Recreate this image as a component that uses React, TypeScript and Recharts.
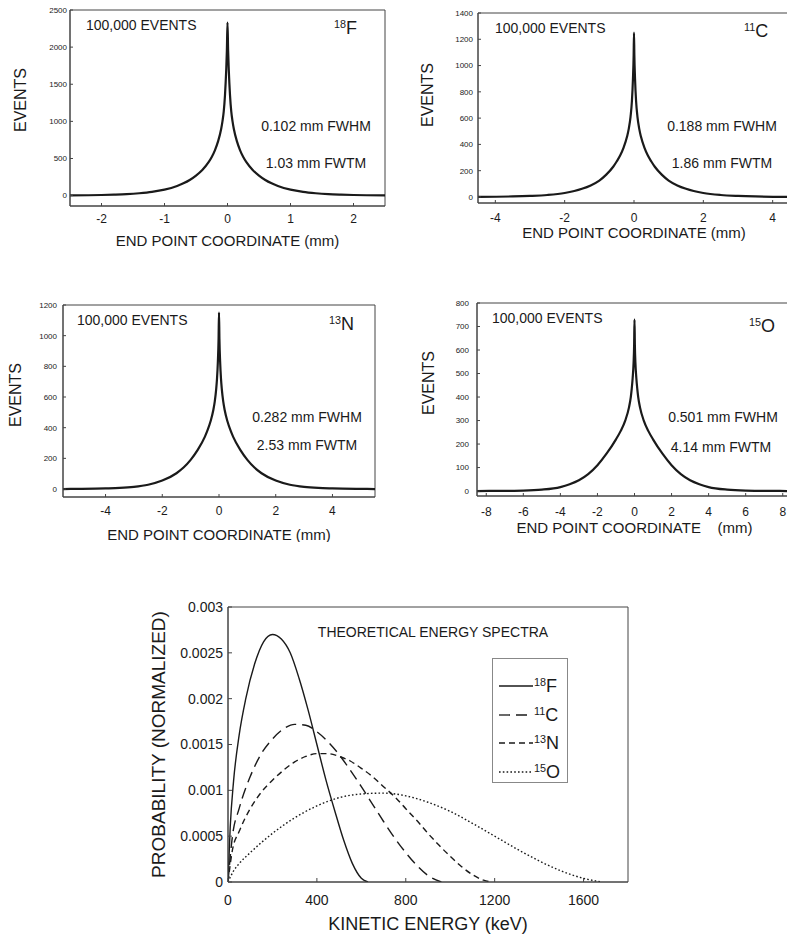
import React from 'react';
import { LineChart, Line, XAxis, YAxis, Label, ReferenceArea } from 'recharts';

const FONT = '"Liberation Sans", Arial, Helvetica, sans-serif';
const INK = '#1a1a1a';
const FRAME = '#444';

// --- end point histograms ---
const F18_X = [-2.5, -2.0, -1.8, -1.6, -1.4, -1.2, -1.0, -0.8, -0.7, -0.6, -0.5, -0.4, -0.3, -0.25, -0.2, -0.15, -0.1, -0.08, -0.06, -0.04, -0.02, -0.01, 0, 0.01, 0.02, 0.04, 0.06, 0.08, 0.1, 0.15, 0.2, 0.25, 0.3, 0.4, 0.5, 0.6, 0.7, 0.8, 1.0, 1.2, 1.4, 1.6, 1.8, 2.0, 2.5];
const F18_N = [3, 8, 13, 20, 32, 50, 80, 130, 165, 210, 270, 345, 450, 520, 610, 730, 900, 1000, 1130, 1350, 1700, 1950, 2330, 1950, 1700, 1350, 1130, 1000, 900, 730, 610, 520, 450, 345, 270, 210, 165, 130, 80, 50, 32, 20, 13, 8, 3];

const C11_X = [-4.5, -3.5, -3.0, -2.5, -2.0, -1.5, -1.25, -1.0, -0.8, -0.6, -0.5, -0.4, -0.3, -0.2, -0.15, -0.1, -0.06, -0.03, -0.01, 0, 0.01, 0.03, 0.06, 0.1, 0.15, 0.2, 0.3, 0.4, 0.5, 0.6, 0.8, 1.0, 1.25, 1.5, 2.0, 2.5, 3.0, 3.5, 4.5];
const C11_N = [1, 4, 8, 15, 30, 62, 88, 125, 170, 230, 270, 315, 375, 460, 520, 610, 730, 900, 1080, 1250, 1080, 900, 730, 610, 520, 460, 375, 315, 270, 230, 170, 125, 88, 62, 30, 15, 8, 4, 1];

const N13_X = [-5.5, -5.0, -4.0, -3.5, -3.0, -2.5, -2.0, -1.5, -1.25, -1.0, -0.75, -0.5, -0.4, -0.3, -0.2, -0.15, -0.1, -0.07, -0.04, -0.015, 0, 0.015, 0.04, 0.07, 0.1, 0.15, 0.2, 0.3, 0.4, 0.5, 0.75, 1.0, 1.25, 1.5, 2.0, 2.5, 3.0, 3.5, 4.0, 5.0, 5.5];
const N13_N = [0, 1, 4, 7, 14, 28, 55, 103, 140, 190, 255, 340, 385, 440, 515, 570, 650, 720, 830, 980, 1150, 980, 830, 720, 650, 570, 515, 440, 385, 340, 255, 190, 140, 103, 55, 28, 14, 7, 4, 1, 0];

const O15_X = [-8.5, -7.0, -6.0, -5.0, -4.0, -3.5, -3.0, -2.5, -2.0, -1.5, -1.0, -0.75, -0.5, -0.3, -0.2, -0.15, -0.1, -0.05, -0.02, 0, 0.02, 0.05, 0.1, 0.15, 0.2, 0.3, 0.5, 0.75, 1.0, 1.5, 2.0, 2.5, 3.0, 3.5, 4.0, 5.0, 6.0, 7.0, 8.5];
const O15_N = [0, 1, 2, 6, 17, 29, 46, 72, 110, 160, 220, 255, 300, 355, 400, 435, 480, 545, 620, 730, 620, 545, 480, 435, 400, 355, 300, 255, 220, 160, 110, 72, 46, 29, 17, 6, 2, 1, 0];

// --- theoretical beta spectra: kinetic energy (keV) vs probability ---
const F18_E = [0, 10, 25, 50, 80, 120, 160, 200, 240, 280, 320, 360, 400, 440, 480, 520, 560, 600, 630];
const F18_P = [0, 0.0006, 0.0011, 0.0016, 0.002, 0.00238, 0.00262, 0.0027, 0.00265, 0.0025, 0.00222, 0.00188, 0.0015, 0.00112, 0.00078, 0.00046, 0.0002, 0.00004, 0];

const C11_E = [0, 20, 50, 100, 150, 200, 250, 300, 350, 400, 450, 500, 550, 600, 650, 700, 750, 800, 850, 900, 960];
const C11_P = [0, 0.0005, 0.0008, 0.00115, 0.0014, 0.00156, 0.00167, 0.00172, 0.00171, 0.00164, 0.00153, 0.00139, 0.00122, 0.00104, 0.00085, 0.00066, 0.00048, 0.00032, 0.00018, 0.00007, 0];

const N13_E = [0, 20, 50, 100, 150, 200, 250, 300, 350, 400, 450, 500, 550, 600, 650, 700, 750, 800, 850, 900, 950, 1000, 1050, 1100, 1150, 1190];
const N13_P = [0, 0.00035, 0.00055, 0.0008, 0.00098, 0.00111, 0.00122, 0.00131, 0.00137, 0.0014, 0.0014, 0.00137, 0.00132, 0.00124, 0.00115, 0.00104, 0.00093, 0.0008, 0.00067, 0.00053, 0.0004, 0.00028, 0.00017, 0.00008, 0.00002, 0];

const O15_E = [0, 25, 50, 100, 150, 200, 300, 400, 500, 600, 700, 800, 900, 1000, 1100, 1200, 1300, 1400, 1500, 1600, 1680];
const O15_P = [0, 0.00012, 0.0002, 0.00032, 0.00043, 0.00053, 0.0007, 0.00083, 0.00092, 0.00096, 0.00097, 0.00094, 0.00087, 0.00077, 0.00064, 0.0005, 0.00036, 0.00023, 0.00012, 0.00004, 0];

const E_TICKS = [0, 400, 800, 1200, 1600];
const P_TICKS = [0, 0.0005, 0.001, 0.0015, 0.002, 0.0025, 0.003];

const toRows = (xs: number[], ys: number[]) => xs.map((x, i) => ({ x, n: ys[i] }));
const toSpec = (es: number[], ps: number[]) => es.map((e, i) => ({ e, p: ps[i] }));

const range = (a: number, b: number, step: number) => {
  const out: number[] = [];
  for (let v = a; v <= b + 1e-9; v += step) out.push(v);
  return out;
};

const Iso = ({ mass, sym }: { mass: string; sym: string }) => (
  <span>
    <span style={{ fontSize: '0.6em', verticalAlign: '0.55em' }}>{mass}</span>
    {sym}
  </span>
);

const Note = ({ x, y, size = 14, center = false, rotate = false, children }: any) => (
  <div
    style={{
      position: 'absolute',
      left: x,
      top: y,
      transform: rotate ? 'translate(-50%, -50%) rotate(-90deg)' : center ? 'translate(-50%, -50%)' : 'translateY(-50%)',
      fontSize: size,
      lineHeight: 1,
      whiteSpace: 'nowrap',
      color: INK,
    }}
  >
    {children}
  </div>
);

const PANELS = [
  {
    key: 'f18', left: 0, top: 0, width: 400, height: 251, mt: 10, mr: 15, yWidth: 70,
    xDomain: [-2.5, 2.5], yDomain: [-140, 2500], xTicks: [-2, -1, 0, 1, 2], yTicks: range(0, 2500, 500),
    rows: toRows(F18_X, F18_N), xLabelOffset: 5, xTickGap: 11, yTickGap: 6,
    xLabel: 'END POINT COORDINATE (mm)',
  },
  {
    key: 'c11', left: 400, top: 0, width: 395, height: 248, mt: 13, mr: 5, yWidth: 78,
    xDomain: [-4.5, 4.5], yDomain: [-46, 1400], xTicks: [-4, -2, 0, 2, 4], yTicks: range(0, 1400, 200),
    rows: toRows(C11_X, C11_N), xLabelOffset: 10, xTickGap: 13, yTickGap: 8,
    xLabel: 'END POINT COORDINATE (mm)',
  },
  {
    key: 'n13', left: 0, top: 280, width: 380, height: 262, mt: 25, mr: 5, yWidth: 63,
    xDomain: [-5.5, 5.5], yDomain: [-52, 1200], xTicks: [-4, -2, 0, 2, 4], yTicks: range(0, 1200, 200),
    rows: toRows(N13_X, N13_N), xLabelOffset: 2, xTickGap: 12, yTickGap: 9,
    xLabel: 'END POINT COORDINATE (mm)',
  },
  {
    key: 'o15', left: 400, top: 280, width: 395, height: 261, mt: 23, mr: 3, yWidth: 77,
    xDomain: [-8.5, 8.5], yDomain: [-21, 800], xTicks: range(-8, 8, 2), yTicks: range(0, 800, 100),
    rows: toRows(O15_X, O15_N), xLabelOffset: 8, xTickGap: 14, yTickGap: 11,
    xLabel: 'END POINT COORDINATE\u00A0\u00A0\u00A0\u00A0(mm)',
  },
];

const NOTES = [
  { events: [86, 25], iso: [334, 28], yl: [21, 100], m: '18', s: 'F', fwhm: [316, 126], fwtm: [316, 163], a: '0.102 mm FWHM', b: '1.03 mm FWTM' },
  { events: [495, 28], iso: [744, 31], yl: [428, 95], m: '11', s: 'C', fwhm: [722, 126], fwtm: [722, 163], a: '0.188 mm FWHM', b: '1.86 mm FWTM' },
  { events: [77, 320], iso: [329, 324], yl: [16, 395], m: '13', s: 'N', fwhm: [307, 417], fwtm: [307, 445], a: '0.282 mm FWHM', b: '2.53 mm FWTM' },
  { events: [492, 318], iso: [749, 326], yl: [429, 383], m: '15', s: 'O', fwhm: [723, 417], fwtm: [721, 447], a: '0.501 mm FWHM', b: '4.14 mm FWTM' },
];

const SPECTRA = [
  { key: 'F', mass: '18', data: toSpec(F18_E, F18_P), dash: undefined, width: 1.4 },
  { key: 'C', mass: '11', data: toSpec(C11_E, C11_P), dash: '11 6', width: 1.4 },
  { key: 'N', mass: '13', data: toSpec(N13_E, N13_P), dash: '6 4', width: 1.4 },
  { key: 'O', mass: '15', data: toSpec(O15_E, O15_P), dash: '1.6 2.2', width: 1.4 },
];

const HistPanel = ({ p }: { p: any }) => (
  <div style={{ position: 'absolute', left: p.left, top: p.top }}>
    <LineChart width={p.width} height={p.height} data={p.rows} margin={{ top: p.mt, right: p.mr, bottom: 0, left: 0 }}>
      <XAxis
        dataKey="x" type="number" domain={p.xDomain} ticks={p.xTicks} interval={0} allowDataOverflow
        height={45} axisLine={{ stroke: FRAME }} tickLine={{ stroke: FRAME }} tickSize={-3} tickMargin={p.xTickGap}
        tick={{ fontSize: 12, fill: INK, fontFamily: FONT }}
      >
        <Label value={p.xLabel} position="insideBottom" offset={p.xLabelOffset} style={{ fontSize: 15, fill: INK, fontFamily: FONT }} />
      </XAxis>
      <YAxis
        type="number" domain={p.yDomain} ticks={p.yTicks} interval={0} allowDataOverflow width={p.yWidth}
        axisLine={{ stroke: FRAME }} tickLine={{ stroke: FRAME }} tickSize={-3} tickMargin={p.yTickGap}
        tick={{ fontSize: 8, fill: INK, fontFamily: FONT }}
      />
      <ReferenceArea x1={p.xDomain[0]} x2={p.xDomain[1]} y1={p.yDomain[0]} y2={p.yDomain[1]} fill="none" stroke={FRAME} strokeWidth={1} ifOverflow="visible" />
      <Line dataKey="n" type="monotone" stroke={INK} strokeWidth={2.2} strokeLinejoin="round" dot={false} isAnimationActive={false} />
    </LineChart>
  </div>
);

const SpectraPanel = () => (
  <div style={{ position: 'absolute', left: 140, top: 590 }}>
    <LineChart width={500} height={348} margin={{ top: 17, right: 12, bottom: 0, left: 0 }}>
      <XAxis
        dataKey="e" type="number" domain={[0, 1800]} ticks={E_TICKS} interval={0} allowDataOverflow
        height={56} axisLine={{ stroke: FRAME }} tickLine={{ stroke: FRAME }} tickSize={-4} tickMargin={17}
        tick={{ fontSize: 14, fill: INK, fontFamily: FONT }}
      >
        <Label value="KINETIC ENERGY (keV)" position="insideBottom" offset={8} style={{ fontSize: 18, fill: INK, fontFamily: FONT }} />
      </XAxis>
      <YAxis
        type="number" domain={[0, 0.003]} ticks={P_TICKS} interval={0} allowDataOverflow width={88}
        axisLine={{ stroke: FRAME }} tickLine={{ stroke: FRAME }} tickSize={-4} tickMargin={9}
        tick={{ fontSize: 14, fill: INK, fontFamily: FONT }}
      >
        <Label value="PROBABILITY (NORMALIZED)" angle={-90} position="insideLeft" offset={18} style={{ fontSize: 19, fill: INK, fontFamily: FONT, textAnchor: 'middle' }} />
      </YAxis>
      <ReferenceArea x1={0} x2={1800} y1={0} y2={0.003} fill="none" stroke={FRAME} strokeWidth={1} ifOverflow="visible" />
      {SPECTRA.map((s) => (
        <Line
          key={s.key} data={s.data} dataKey="p" type="monotone" stroke={INK} strokeWidth={s.width}
          strokeDasharray={s.dash} dot={false} isAnimationActive={false}
        />
      ))}
    </LineChart>
  </div>
);

export default function App() {
  return (
    <div
      style={{
        position: 'absolute', left: 0, top: 0, width: 787, height: 938, overflow: 'hidden',
        background: '#fff', fontFamily: FONT, color: INK,
      }}
    >
      {PANELS.map((p) => (
        <HistPanel key={p.key} p={p} />
      ))}
      {NOTES.map((n, i) => (
        <React.Fragment key={i}>
          <Note x={n.yl[0]} y={n.yl[1]} size={16} rotate>EVENTS</Note>
          <Note x={n.events[0]} y={n.events[1]}>100,000 EVENTS</Note>
          <Note x={n.iso[0]} y={n.iso[1]} size={18}>
            <Iso mass={n.m} sym={n.s} />
          </Note>
          <Note x={n.fwhm[0]} y={n.fwhm[1]} center>{n.a}</Note>
          <Note x={n.fwtm[0]} y={n.fwtm[1]} center>{n.b}</Note>
        </React.Fragment>
      ))}

      <SpectraPanel />
      <Note x={433} y={632} center>THEORETICAL ENERGY SPECTRA</Note>

      {/* legend box */}
      <div style={{ position: 'absolute', left: 492, top: 658, width: 76, height: 125, border: '1px solid #888', boxSizing: 'border-box' }}>
        {SPECTRA.map((s, i) => (
          <div key={s.key} style={{ position: 'absolute', left: 0, top: 27 + i * 28.5 - 14, height: 28, width: 74 }}>
            <svg width={40} height={28} style={{ position: 'absolute', left: 5, top: 0 }}>
              <line x1={1} x2={35} y1={14} y2={14} stroke={INK} strokeWidth={1.3} strokeDasharray={s.dash} />
            </svg>
            <div style={{ position: 'absolute', left: 41, top: 14, transform: 'translateY(-48%)', fontSize: 18, lineHeight: 1, whiteSpace: 'nowrap' }}>
              <Iso mass={s.mass} sym={s.key} />
            </div>
          </div>
        ))}
      </div>
    </div>
  );
}
